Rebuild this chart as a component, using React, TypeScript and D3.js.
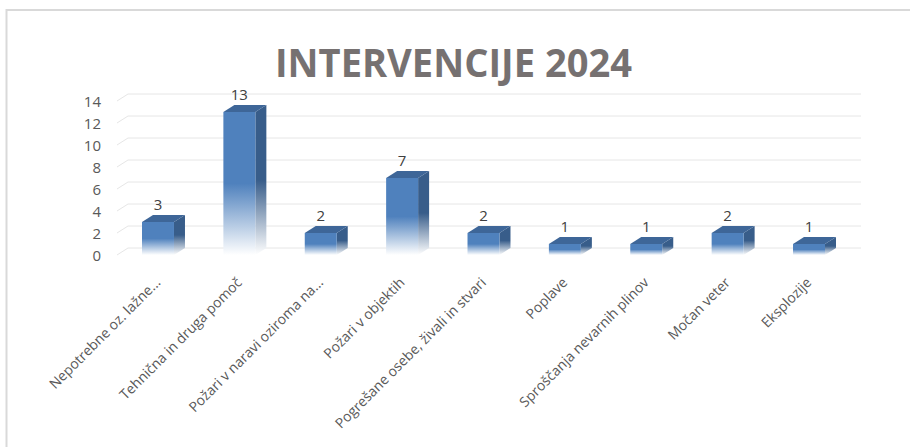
import React from "react";
import * as d3 from "d3";

const categories = [
  "Nepotrebne oz. lažne...",
  "Tehnična in druga pomoč",
  "Požari v naravi oziroma na...",
  "Požari v objektih",
  "Pogrešane osebe, živali in stvari",
  "Poplave",
  "Sproščanja nevarnih plinov",
  "Močan veter",
  "Eksplozije",
];
const values = [3, 13, 2, 7, 2, 1, 1, 2, 1];
const yTicks = [0, 2, 4, 6, 8, 10, 12, 14];
const title = "INTERVENCIJE 2024";

const W = 910;
const H = 447;
const DX = 11;
const DY = -7;
const FONT = "'Open Sans', 'Liberation Sans', sans-serif";

export default function App() {
  const x = d3
    .scaleBand<string>()
    .domain(categories)
    .range([117.3, 849.7])
    .paddingInner(0.607)
    .paddingOuter(0.3035);
  const y = d3.scaleLinear().domain([0, 14]).range([255, 101]);
  const bw = x.bandwidth();

  return (
    <svg
      width={W}
      height={H}
      style={{ position: "absolute", left: 0, top: 0, background: "#fff" }}
    >
      <defs>
        <linearGradient id="gFront" x1="0" y1="0" x2="0" y2="1">
          <stop offset="0" stopColor="#4F81BD" />
          <stop offset="0.5" stopColor="#4F81BD" />
          <stop offset="1" stopColor="#ffffff" />
        </linearGradient>
        <linearGradient id="gSide" x1="0" y1="0" x2="0" y2="1">
          <stop offset="0" stopColor="#385D8A" />
          <stop offset="0.5" stopColor="#385D8A" />
          <stop offset="1" stopColor="#ffffff" />
        </linearGradient>
      </defs>
      <rect x={0} y={0} width={W} height={H} fill="#fff" />
      <rect
        x={6.5}
        y={10}
        width={W + 20}
        height={H + 20}
        fill="none"
        stroke="#d9d9d9"
        strokeWidth={2}
      />
      <text
        x={453.5}
        y={77}
        textAnchor="middle"
        fontFamily={FONT}
        fontWeight={700}
        fontSize={40}
        fill="#767171"
        textLength={357}
        lengthAdjust="spacingAndGlyphs"
      >
        {title}
      </text>
      {yTicks.map((t) => (
        <g key={t}>
          <line
            x1={117}
            y1={y(t)}
            x2={117 + DX}
            y2={y(t) + DY}
            stroke="#e6e6e6"
            strokeWidth={1}
          />
          <line
            x1={117 + DX}
            y1={y(t) + DY}
            x2={861}
            y2={y(t) + DY}
            stroke="#e6e6e6"
            strokeWidth={1}
          />
          <text
            x={101}
            y={y(t) + 2}
            textAnchor="end"
            dominantBaseline="middle"
            fontFamily={FONT}
            fontSize={15}
            fill="#595959"
          >
            {t}
          </text>
        </g>
      ))}
      {categories.map((c, i) => {
        const x0 = x(c)!;
        const x1 = x0 + bw;
        const yt = y(values[i]);
        const yb = y(0);
        return (
          <g key={c}>
            <polygon
              points={`${x1},${yt} ${x1 + DX},${yt + DY} ${x1 + DX},${yb + DY} ${x1},${yb}`}
              fill="url(#gSide)"
            />
            <rect x={x0} y={yt} width={bw} height={yb - yt} fill="url(#gFront)" />
            <polygon
              points={`${x0},${yt} ${x0 + DX},${yt + DY} ${x1 + DX},${yt + DY} ${x1},${yt}`}
              fill="#3E6698"
            />
            <text
              x={x0 + bw / 2}
              y={yt + DY - 5}
              textAnchor="middle"
              fontFamily={FONT}
              fontSize={15}
              fill="#404040"
            >
              {values[i]}
            </text>
            <text
              transform={`translate(${x0 + bw / 2 - 4},${276}) rotate(-45)`}
              textAnchor="end"
              dy="0.75em"
              fontFamily={FONT}
              fontSize={14}
              fill="#595959"
            >
              {c}
            </text>
          </g>
        );
      })}
    </svg>
  );
}
